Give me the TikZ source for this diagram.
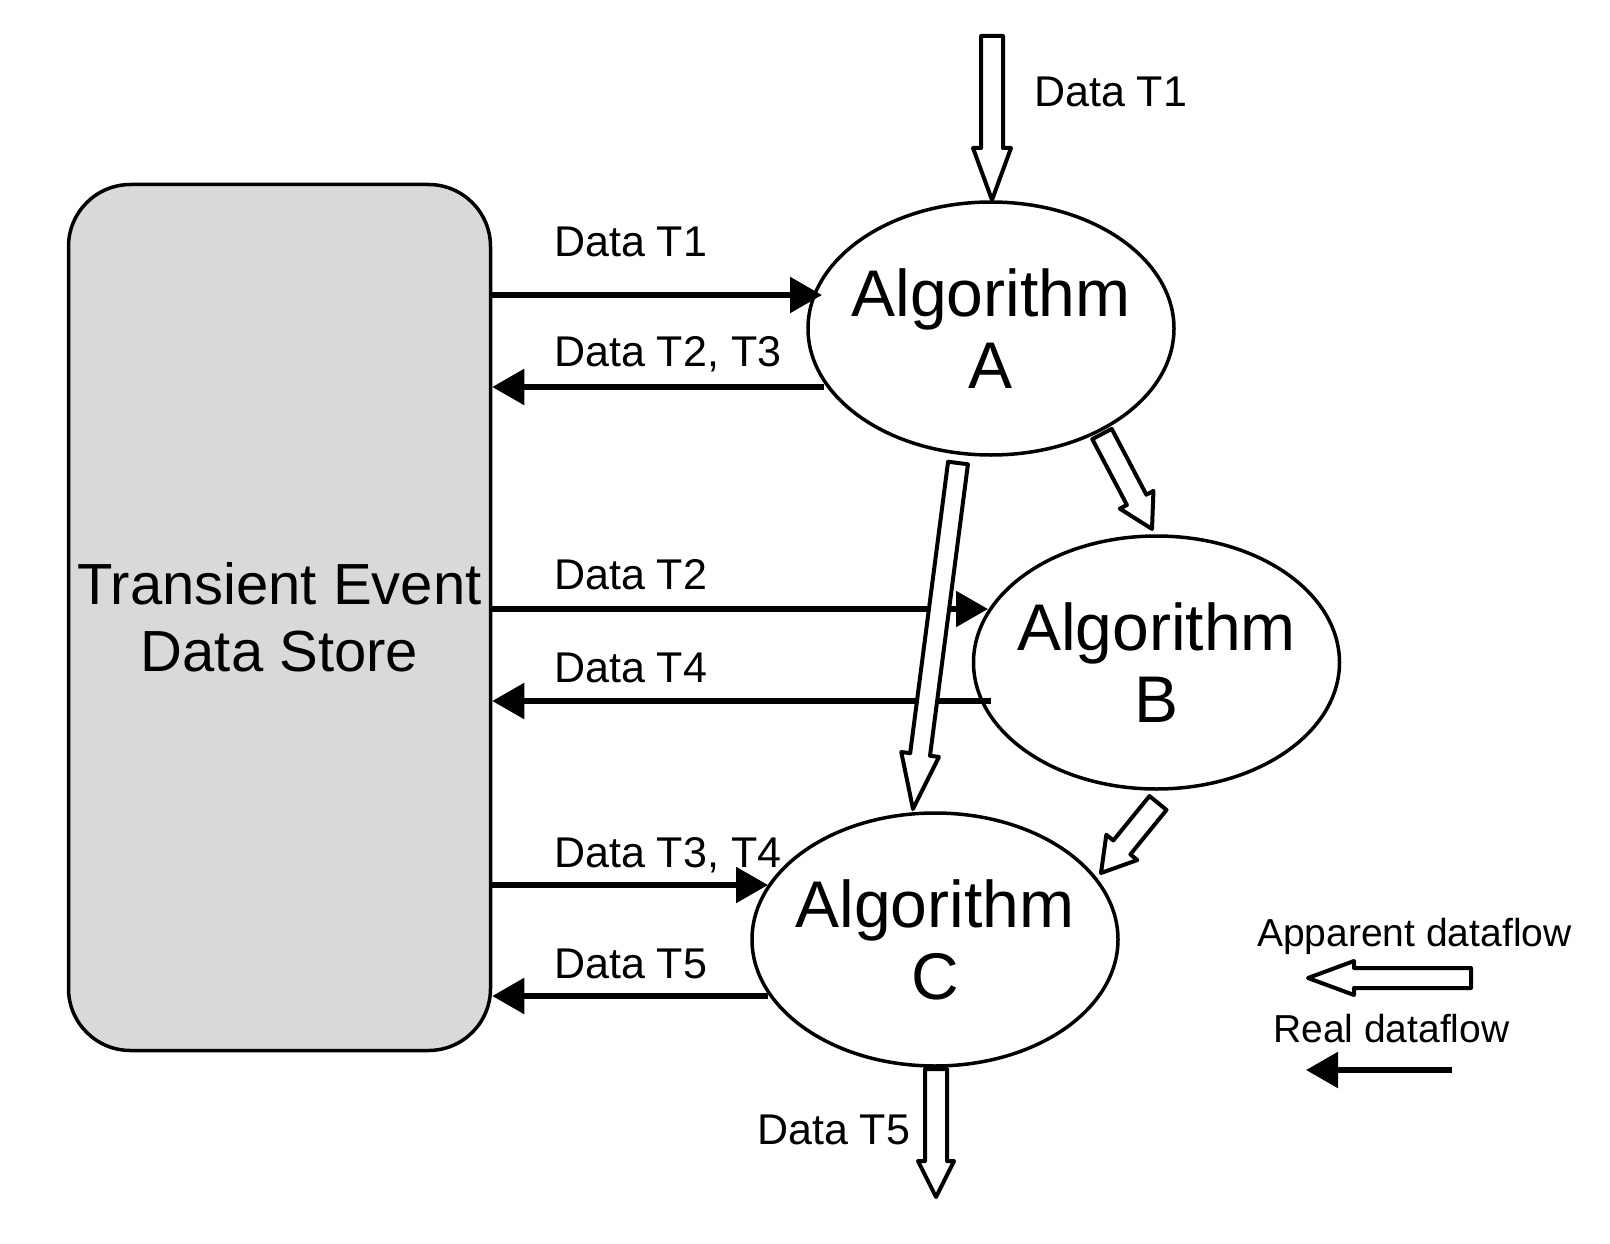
\documentclass[tikz,border=0pt]{standalone}
\usepackage{fontspec}
\setmainfont{Liberation Sans}
\usetikzlibrary{arrows.meta,calc,shapes.geometric}
\definecolor{storegray}{RGB}{216,218,218}
\newcommand\hollowarr[5]{%
  \path ($(#2)!#3pt!(#1)$) coordinate (hb);
  \draw[hollow] ($(#1)!#4pt!90:(#2)$) -- ($(hb)!#4pt!90:(#2)$) -- ($(hb)!#5pt!90:(#2)$) -- (#2)
    -- ($(hb)!#5pt!-90:(#2)$) -- ($(hb)!#4pt!-90:(#2)$) -- ($(#1)!#4pt!-90:(#2)$) -- cycle;}
\begin{document}
\begin{tikzpicture}[x=1pt,y=-1pt,
  algo/.style={ellipse,draw,line width=3.5pt,fill=white,minimum width=366pt,minimum height=253pt,inner sep=0pt},
  algotext/.style={inner sep=0pt,align=center,font=\fontsize{66}{72}\selectfont},
  store/.style={rectangle,rounded corners=62pt,draw,line width=3.5pt,fill=storegray,minimum width=422pt,minimum height=866pt,align=center,font=\fontsize{58}{67}\selectfont},
  realflow/.style={line width=5.5pt,-{Triangle[length=32pt,width=35pt]}},
  hollow/.style={draw,fill=white,line width=4pt,line join=round},
  lbl/.style={anchor=base west,inner sep=0pt,font=\fontsize{43}{50}\selectfont},
  leg/.style={anchor=base west,inner sep=0pt,font=\fontsize{39}{45}\selectfont}]
\useasboundingbox (0,0) rectangle (1610,1244);
% main shapes
\node[store] (store) at (279.5,617.5) {Transient Event\\Data Store};
\node[algo] (A) at (991,328.5) {};
\node[algotext] (At) at (A.center) {Algorithm\\A};
\node[algo] (B) at (1156.5,662.5) {};
\node[algotext] (Bt) at (B.center) {Algorithm\\B};
\node[algo] (C) at (935,939.5) {};
\node[algotext] (Ct) at (C.center) {Algorithm\\C};
% real dataflow end points
\coordinate (a1) at (822,295);
\coordinate (a2) at (824,387);
\coordinate (b1) at (988,609);
\coordinate (b2) at (991,701);
\coordinate (c1) at (768,885);
\coordinate (c2) at (768,996);
\draw[realflow] (store.east |- a1) -- (a1);
\draw[realflow] (a2) -- (store.east |- a2);
\draw[realflow] (store.east |- b1) -- (b1);
\draw[realflow] (b2) -- (store.east |- b2);
\draw[realflow] (store.east |- c1) -- (c1);
\draw[realflow] (c2) -- (store.east |- c2);
% labels
\node[lbl] (l1) at (554,256) {Data T1};
\node[lbl] (l2) at (554,366) {Data T2, T3};
\node[lbl] (l3) at (554,589) {Data T2};
\node[lbl] (l4) at (554,682) {Data T4};
\node[lbl] (l5) at (554,867) {Data T3, T4};
\node[lbl] (l6) at (554,978) {Data T5};
\node[lbl] (l7) at (1034,107) {Data T1};
\node[lbl] (l8) at (757,1144) {Data T5};
% apparent dataflow (hollow arrows)
\coordinate (inTop) at (992,36);
\coordinate (topTip) at (992,200);
\coordinate (acS) at (958,463);
\coordinate (acT) at (913,809);
\coordinate (abS) at (1102,434);
\coordinate (abT) at (1152,529);
\coordinate (bcS) at (1158,803);
\coordinate (bcT) at (1101,873);
\coordinate (outS) at (936,1069);
\coordinate (outT) at (936,1197);
\hollowarr{inTop}{topTip}{52}{11}{19}
\hollowarr{acS}{acT}{55}{10}{19}
\hollowarr{abS}{abT}{33}{11}{19}
\hollowarr{bcS}{bcT}{33}{11}{20}
\hollowarr{outS}{outT}{36}{11}{18}
% legend
\node[leg] (lg1) at (1257,946) {Apparent dataflow};
\node[leg] (lg2) at (1273,1042) {Real dataflow};
\coordinate (lgaS) at (1471,978);
\coordinate (lgaT) at (1308,978);
\coordinate (lgrS) at (1452,1070);
\coordinate (lgrT) at (1306,1070);
\hollowarr{lgaS}{lgaT}{46}{10}{17}
\draw[realflow] (lgrS) -- (lgrT);
\end{tikzpicture}
\end{document}
